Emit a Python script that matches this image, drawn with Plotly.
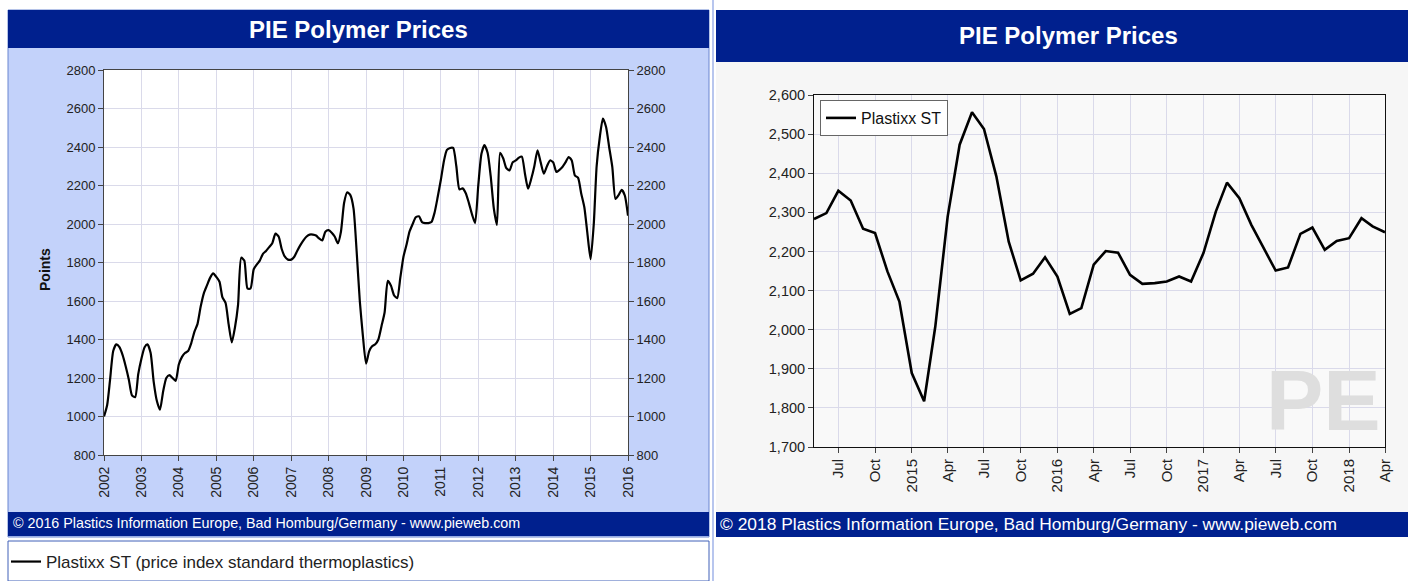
import pandas as pd
import plotly.graph_objects as go

W, H = 1408, 581

# ---- data ----
# left chart: monthly Plastixx ST, Jan 2002 .. Jan 2016
plastixx_2002_2016 = [
    1000, 1060, 1190, 1340, 1375, 1360, 1320, 1260, 1190, 1110, 1100, 1220,  # 2002
    1300, 1360, 1375, 1330, 1180, 1080, 1035, 1130, 1200, 1215, 1200, 1185,  # 2003
    1270, 1310, 1330, 1340, 1380, 1440, 1480, 1570, 1640, 1680, 1720, 1743,  # 2004
    1725, 1700, 1620, 1590, 1480, 1385, 1460, 1580, 1825, 1810, 1665, 1665,  # 2005
    1765, 1790, 1810, 1845, 1860, 1880, 1900, 1950, 1935, 1870, 1830, 1815,  # 2006
    1815, 1830, 1860, 1890, 1915, 1935, 1945, 1945, 1940, 1925, 1915, 1960,  # 2007
    1968, 1955, 1935, 1900, 1960, 2110, 2165, 2150, 2080, 1860, 1600, 1420,  # 2008
    1275, 1340, 1365, 1375, 1400, 1470, 1540, 1705, 1680, 1630, 1615, 1720,  # 2009
    1830, 1895, 1960, 2000, 2035, 2040, 2010, 2005, 2005, 2010, 2060, 2140,  # 2010
    2230, 2330, 2385, 2395, 2395, 2300, 2180, 2185, 2160, 2110, 2050, 2005,  # 2011
    2200, 2365, 2410, 2370, 2250, 2080, 1995, 2370, 2340, 2290, 2278, 2320,  # 2012
    2330, 2345, 2350, 2260, 2183, 2235, 2300, 2383, 2320, 2262, 2300, 2330,  # 2013
    2320, 2270, 2280, 2296, 2320, 2348, 2330, 2252, 2240, 2160, 2087, 1950,  # 2014
    1817, 2000, 2300, 2452, 2548, 2504, 2400, 2296, 2130, 2150, 2177, 2148,  # 2015
    2043,                                                                    # 2016
]
left_dates = pd.date_range("2002-01-01", periods=len(plastixx_2002_2016), freq="MS")

# right chart: monthly Plastixx ST, May 2014 .. Apr 2018
plastixx_2014_2018 = [
    2283, 2298, 2355, 2330, 2258, 2247, 2149, 2072,                          # 2014
    1889, 1817, 2008, 2289, 2473, 2556, 2513, 2392, 2225, 2126, 2143, 2185,  # 2015
    2136, 2040, 2055, 2166, 2201, 2197, 2140, 2117, 2119, 2123, 2136, 2123,  # 2016
    2196, 2302, 2376, 2336, 2268, 2208, 2151, 2159, 2245, 2261, 2204, 2227,  # 2017
    2234, 2285, 2264, 2249,                                                  # 2018
]
right_dates = pd.date_range("2014-05-01", periods=len(plastixx_2014_2018), freq="MS")

right_tickvals = pd.date_range("2014-07-01", "2018-04-01", freq="3MS")
right_ticktext = ["Jul", "Oct", "2015", "Apr", "Jul", "Oct", "2016", "Apr",
                  "Jul", "Oct", "2017", "Apr", "Jul", "Oct", "2018", "Apr"]

NAVY = "#00208E"
LIGHT_BLUE = "#C3D2FA"
GRID = "#DADAEA"
FONT = "Liberation Sans, Arial, sans-serif"


def px(x):
    return x / W


def py(y):
    return 1 - y / H


def rect(x0, y0, x1, y1, fill, line=None, lw=1):
    return dict(type="rect", xref="paper", yref="paper", layer="below",
                x0=px(x0), x1=px(x1), y0=py(y1), y1=py(y0),
                fillcolor=fill, line=dict(color=line or fill, width=lw if line else 0))


def label(text, x, y, size, color, xanchor="center", **kw):
    return dict(text=text, x=px(x), y=py(y), xref="paper", yref="paper",
                xanchor=xanchor, yanchor="middle", showarrow=False,
                font=dict(size=size, color=color), **kw)


fig = go.Figure()

fig.add_trace(go.Scatter(
    x=left_dates, y=plastixx_2002_2016, mode="lines",
    line=dict(color="black", width=2.2, shape="spline", smoothing=0.6),
    name="Plastixx ST (price index standard thermoplastics)",
    legend="legend2", xaxis="x", yaxis="y"))
# same series on the mirrored right axis (invisible) so the axis is drawn
fig.add_trace(go.Scatter(
    x=left_dates, y=plastixx_2002_2016, mode="lines",
    line=dict(color="rgba(0,0,0,0)", width=0), showlegend=False,
    hoverinfo="skip", xaxis="x", yaxis="y3"))

fig.add_trace(go.Scatter(
    x=right_dates, y=plastixx_2014_2018, mode="lines",
    line=dict(color="black", width=2.6),
    name="Plastixx ST", legend="legend", xaxis="x2", yaxis="y2"))

axis_common = dict(showline=True, linecolor="#444", ticks="outside", ticklen=5,
                   tickcolor="#444", gridcolor=GRID, gridwidth=1, zeroline=False,
                   automargin=False)

fig.update_layout(
    width=W, height=H,
    margin=dict(l=0, r=0, t=0, b=0),
    paper_bgcolor="white",
    plot_bgcolor="rgba(0,0,0,0)",
    font=dict(family=FONT, color="#222"),
    xaxis=dict(axis_common, domain=[px(104), px(628)], anchor="y", type="date",
               range=["2002-01-01", "2016-01-01"], dtick="M12", tickformat="%Y",
               tickangle=-90, tickfont=dict(size=14), mirror=True),
    yaxis=dict(axis_common, domain=[py(455), py(70)], anchor="x",
               range=[800, 2800], dtick=200, tickfont=dict(size=13), mirror=True),
    yaxis3=dict(overlaying="y", side="right", anchor="x", range=[800, 2800], dtick=200,
                showgrid=False, zeroline=False, ticks="outside", ticklen=5,
                tickcolor="#444", tickfont=dict(size=13), automargin=False),
    xaxis2=dict(axis_common, domain=[px(814), px(1385)], anchor="y2", type="date",
                range=["2014-05-01", "2018-04-01"], tickvals=right_tickvals,
                ticktext=right_ticktext, tickangle=-90, tickfont=dict(size=15),
                linecolor="#111", mirror=True),
    yaxis2=dict(axis_common, domain=[py(447), py(95)], anchor="x2",
                range=[1700, 2600], dtick=100, tickformat=",",
                tickfont=dict(size=14.5), linecolor="#111", mirror=True),
    legend=dict(x=px(820), y=py(100), xanchor="left", yanchor="top",
                bgcolor="white", bordercolor="#666", borderwidth=1,
                font=dict(size=16, color="#111"), itemwidth=30,
                tracegroupgap=0),
    legend2=dict(x=px(6), y=py(562), xanchor="left", yanchor="middle",
                 bgcolor="rgba(0,0,0,0)", borderwidth=0,
                 font=dict(size=17, color="#222"), itemwidth=30),
    shapes=[
        # left panel
        rect(8, 10, 709, 537, LIGHT_BLUE, "#6B86D0"),
        rect(8, 10, 709, 48, NAVY),
        rect(104, 70, 628, 455, "white"),
        rect(8, 512, 709, 536, NAVY),
        rect(8, 541, 709, 581, "white", "#4060B8"),
        # right panel
        rect(712, 0, 714, 581, "#B8C6EE"),
        rect(716, 10, 1408, 537, "#F6F6F6"),
        rect(716, 10, 1408, 62, NAVY),
        rect(814, 95, 1385, 447, "#F9F9F9"),
        rect(716, 512, 1408, 537, NAVY),
    ],
    annotations=[
        label("<b>PIE Polymer Prices</b>", 358, 29, 24, "white"),
        label("<b>PIE Polymer Prices</b>", 1068, 36, 24, "white"),
        label("<b>Points</b>", 45, 270, 14, "#111", textangle=-90),
        label("© 2016 Plastics Information Europe, Bad Homburg/Germany - www.pieweb.com",
              11, 523, 14.3, "white", xanchor="left"),
        label("© 2018 Plastics Information Europe, Bad Homburg/Germany - www.pieweb.com",
              718, 524, 17.4, "white", xanchor="left"),
        label("<b>PE</b>", 1323, 400, 86, "#DEDEDE"),
    ],
)

fig.write_html("out.html", config={"displayModeBar": False},
               post_script="document.body.style.margin='0';document.body.style.overflow='hidden';")
